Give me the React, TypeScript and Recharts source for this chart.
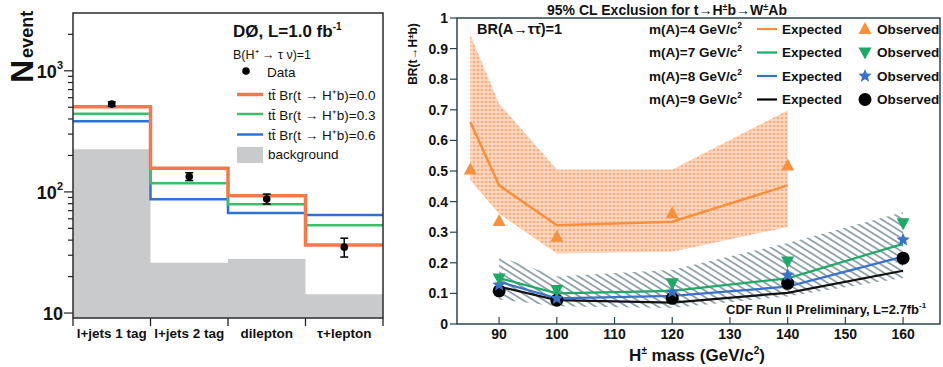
import React from 'react';
import { ComposedChart, Line, Area, Scatter, XAxis, YAxis, ErrorBar } from 'recharts';

const FONT = '"Liberation Sans", Arial, Helvetica, sans-serif';

// ---- left panel: D0 event counts per channel ----
const channels = ['l+jets 1 tag', 'l+jets 2 tag', 'dilepton', 'τ+lepton'];
const br00 = [504, 157, 93, 36.5];
const br03 = [441, 118, 79, 53];
const br06 = [384, 87, 67, 64.6];
const background = [225, 26, 28, 14.3];
const observed = [531, 134, 87.5, 35];
const obsErrLow = [23, 10, 8, 6];
const obsErrHigh = [23, 10, 8.5, 6.5];
const countTicks = [10, 20, 30, 40, 50, 60, 70, 80, 90, 100, 200, 300, 400, 500, 600, 700, 800, 900, 1000, 2000];

// ---- right panel: CDF BR limits vs H+ mass ----
const massA4 = [85, 90, 100, 120, 140];
const exp4 = [0.66, 0.453, 0.323, 0.334, 0.453];
const obs4 = [0.505, 0.337, 0.285, 0.362, 0.518];
const band4Low = [0.47, 0.36, 0.23, 0.236, 0.317];
const band4High = [0.946, 0.72, 0.505, 0.505, 0.698];

const mass = [90, 100, 120, 140, 160];
const exp7 = [0.15, 0.1, 0.108, 0.149, 0.262];
const obs7 = [0.149, 0.111, 0.133, 0.204, 0.329];
const exp8 = [0.138, 0.084, 0.092, 0.122, 0.22];
const obs8 = [0.128, 0.084, 0.105, 0.16, 0.275];
const exp9 = [0.122, 0.078, 0.07, 0.102, 0.174];
const obs9 = [0.108, 0.078, 0.084, 0.133, 0.215];
const hatchLow = [0.08, 0.058, 0.052, 0.09, 0.15];
const hatchHigh = [0.22, 0.155, 0.177, 0.265, 0.365];

const massTicks = [90, 100, 110, 120, 130, 140, 150, 160];
const brTicks = [0, 0.1, 0.2, 0.3, 0.4, 0.5, 0.6, 0.7, 0.8, 0.9, 1];

const C_OR = '#f2794d';
const C_GR = '#3cbf6a';
const C_BL = '#2f72d6';
const C_OR2 = '#f7913f';
const C_GR2 = '#1fa868';
const C_BL2 = '#3a72c9';

const steps = (vals: number[]) => [...vals, vals[vals.length - 1]].map((y, i) => ({ x: i, y }));
const pairs = (xs: number[], ys: number[]) => xs.map((x, i) => ({ x, y: ys[i] }));
const ranges = (xs: number[], lo: number[], hi: number[]) => xs.map((x, i) => ({ x, r: [lo[i], hi[i]] }));

const dataPts = observed.map((y, i) => ({ x: i + 0.5, y, err: [obsErrLow[i], obsErrHigh[i]] }));

const LEFT_W = 390;
const LEFT_PLOT_W = 310;

const ChannelTick = (p: any) => {
  const { x, y, payload } = p;
  const i = payload.value;
  return (
    <g>
      <line x1={x} x2={x} y1={y} y2={y + 8} stroke="#222" strokeWidth={1.3} />
      {i < 4 && (
        <text x={x + LEFT_PLOT_W / 8} y={y + 20} textAnchor="middle" fontSize={13.5} fontWeight="bold" fill="#111" fontFamily={FONT}>
          {channels[i]}
        </text>
      )}
    </g>
  );
};

const CountTick = (p: any) => {
  const { x, y, payload } = p;
  const v = payload.value;
  const e = Math.log10(v);
  const major = Math.abs(e - Math.round(e)) < 1e-6;
  return (
    <g>
      <line x1={x - (major ? 9 : 5)} x2={x} y1={y} y2={y} stroke="#222" strokeWidth={1.2} />
      {major && (
        <text x={x - 10} y={y + 7} textAnchor="end" fontSize={18} fontWeight="bold" fill="#111" fontFamily={FONT}>
          10
          {Math.round(e) > 1 && (
            <tspan fontSize={11} dy={-9}>
              {Math.round(e)}
            </tspan>
          )}
        </text>
      )}
    </g>
  );
};

const BrTick = (p: any) => {
  const { x, y, payload } = p;
  const v = payload.value;
  const label = v === 0 ? '0' : v === 1 ? '1' : v.toFixed(1);
  return (
    <g>
      <line x1={x - 7} x2={x} y1={y} y2={y} stroke="#2c4452" strokeWidth={1.2} />
      <text x={x - 9} y={y + 5} textAnchor="end" fontSize={14} fontWeight="bold" fill="#111" fontFamily={FONT}>
        {label}
      </text>
    </g>
  );
};

const MassTick = (p: any) => {
  const { x, y, payload } = p;
  return (
    <g>
      <line x1={x} x2={x} y1={y - 7} y2={y} stroke="#2c4452" strokeWidth={1.2} />
      <text x={x} y={y + 15} textAnchor="middle" fontSize={14} fontWeight="bold" fill="#111" fontFamily={FONT}>
        {payload.value}
      </text>
    </g>
  );
};

const starPts = (cx: number, cy: number, R: number, r: number) =>
  Array.from({ length: 10 }, (_, k) => {
    const a = -Math.PI / 2 + (k * Math.PI) / 5;
    const rad = k % 2 === 0 ? R : r;
    return `${cx + rad * Math.cos(a)},${cy + rad * Math.sin(a)}`;
  }).join(' ');

const TriUp = ({ cx, cy, fill }: any) => (
  <polygon points={`${cx},${cy - 7} ${cx - 6.5},${cy + 5} ${cx + 6.5},${cy + 5}`} fill={fill} />
);
const TriDown = ({ cx, cy, fill }: any) => (
  <polygon points={`${cx},${cy + 7} ${cx - 6.5},${cy - 5} ${cx + 6.5},${cy - 5}`} fill={fill} />
);
const Star = ({ cx, cy, fill }: any) => <polygon points={starPts(cx, cy, 7, 3.2)} fill={fill} />;
const Dot = ({ cx, cy, fill }: any) => <circle cx={cx} cy={cy} r={6.5} fill={fill} />;

const LeftPanel = () => (
  <ComposedChart width={LEFT_W} height={367} margin={{ top: 13, right: 7, left: 0, bottom: 19 }}>
    <XAxis
      type="number"
      dataKey="x"
      domain={[0, 4]}
      ticks={[0, 1, 2, 3, 4]}
      interval={0}
      height={30}
      axisLine={false}
      tickLine={false}
      tickSize={0}
      tickMargin={0}
      tick={<ChannelTick />}
    />
    <YAxis
      type="number"
      scale="log"
      domain={[9.1, 3000]}
      allowDataOverflow
      ticks={countTicks}
      interval={0}
      width={73}
      axisLine={false}
      tickLine={false}
      tickSize={0}
      tickMargin={0}
      tick={<CountTick />}
    />
    <Area data={steps(background)} dataKey="y" type="stepAfter" fill="#c9cacc" fillOpacity={1} stroke="none" isAnimationActive={false} />
    <Line data={steps(br06)} dataKey="y" type="stepAfter" stroke={C_BL} strokeWidth={2.5} dot={false} isAnimationActive={false} />
    <Line data={steps(br03)} dataKey="y" type="stepAfter" stroke={C_GR} strokeWidth={2.5} dot={false} isAnimationActive={false} />
    <Line data={steps(br00)} dataKey="y" type="stepAfter" stroke={C_OR} strokeWidth={3.5} dot={false} isAnimationActive={false} />
    <Scatter data={dataPts} dataKey="y" fill="#000" shape={(p: any) => <circle cx={p.cx} cy={p.cy} r={3.8} fill="#000" />} isAnimationActive={false}>
      <ErrorBar dataKey="err" direction="y" width={4} stroke="#000" strokeWidth={1.5} />
    </Scatter>
  </ComposedChart>
);

const RightPanel = () => (
  <ComposedChart width={563} height={367} margin={{ top: 18, right: 3, left: 0, bottom: 13 }}>
    <defs>
      <pattern id="dots" patternUnits="userSpaceOnUse" width="4" height="4">
        <rect width="4" height="4" fill="#fcd8c0" />
        <circle cx="2" cy="2" r="1.3" fill="#f8ae82" />
      </pattern>
      <pattern id="hatch" patternUnits="userSpaceOnUse" width="6" height="5.5" patternTransform="rotate(32)">
        <line x1="0" y1="2.75" x2="6" y2="2.75" stroke="#567280" strokeWidth="1.2" />
      </pattern>
    </defs>
    <XAxis
      type="number"
      dataKey="x"
      domain={[82.7, 166.4]}
      allowDataOverflow
      ticks={massTicks}
      interval={0}
      height={30}
      axisLine={false}
      tickLine={false}
      tickSize={0}
      tickMargin={0}
      tick={<MassTick />}
    />
    <YAxis
      type="number"
      domain={[0, 1]}
      ticks={brTicks}
      interval={0}
      width={77}
      axisLine={false}
      tickLine={false}
      tickSize={0}
      tickMargin={0}
      tick={<BrTick />}
    />
    <Area data={ranges(massA4, band4Low, band4High)} dataKey="r" type="linear" fill="url(#dots)" fillOpacity={1} stroke="none" isAnimationActive={false} />
    <Area data={ranges(mass, hatchLow, hatchHigh)} dataKey="r" type="linear" fill="url(#hatch)" fillOpacity={1} stroke="none" isAnimationActive={false} />
    <Line data={pairs(massA4, exp4)} dataKey="y" type="linear" stroke={C_OR2} strokeWidth={2.5} dot={false} isAnimationActive={false} />
    <Line data={pairs(mass, exp9)} dataKey="y" type="linear" stroke="#111" strokeWidth={2.2} dot={false} isAnimationActive={false} />
    <Line data={pairs(mass, exp8)} dataKey="y" type="linear" stroke={C_BL2} strokeWidth={2.2} dot={false} isAnimationActive={false} />
    <Line data={pairs(mass, exp7)} dataKey="y" type="linear" stroke={C_GR2} strokeWidth={2.2} dot={false} isAnimationActive={false} />
    <Scatter data={pairs(massA4, obs4)} dataKey="y" fill={C_OR2} shape={TriUp} isAnimationActive={false} />
    <Scatter data={pairs(mass, obs9)} dataKey="y" fill="#000" shape={Dot} isAnimationActive={false} />
    <Scatter data={pairs(mass, obs8)} dataKey="y" fill={C_BL2} shape={Star} isAnimationActive={false} />
    <Scatter data={pairs(mass, obs7)} dataKey="y" fill={C_GR2} shape={TriDown} isAnimationActive={false} />
  </ComposedChart>
);

const legendRows = [
  { m: '4', color: C_OR2, mk: TriUp },
  { m: '7', color: C_GR2, mk: TriDown },
  { m: '8', color: C_BL2, mk: Star },
  { m: '9', color: '#000', mk: Dot },
];
const legendY = [33.5, 57, 80.5, 104];

const Overlay = () => (
  <svg width={943} height={367} style={{ position: 'absolute', left: 0, top: 0, pointerEvents: 'none' }} fontFamily={FONT}>
    {/* frames */}
    <rect x={73} y={13} width={310} height={305} fill="none" stroke="#2b2b2b" strokeWidth={1.5} />
    <rect x={457} y={18} width={483} height={306} fill="none" stroke="#2c4452" strokeWidth={1.5} />

    {/* left axis title */}
    <text transform="translate(33,83) rotate(-90)" fontWeight="bold" fill="#111">
      <tspan fontSize={32}>N</tspan>
      <tspan fontSize={18} dx={2}>event</tspan>
    </text>

    {/* left legend */}
    <text x={233} y={37} fontSize={17} fontWeight="bold" fill="#111">
      DØ, L=1.0 fb<tspan fontSize={10} dy={-7}>-1</tspan>
    </text>
    <text x={233} y={59} fontSize={12.5} fill="#111">B(H⁺ → τ ν)=1</text>
    <circle cx={246} cy={71} r={3.8} fill="#000" />
    <text x={267} y={77} fontSize={13.5} fill="#111">Data</text>
    <line x1={237} x2={263} y1={94.5} y2={94.5} stroke={C_OR} strokeWidth={3.5} />
    <text x={268} y={100} fontSize={13.5} fill="#111">tt̄ Br(t → H⁺b)=0.0</text>
    <line x1={237} x2={263} y1={114} y2={114} stroke={C_GR} strokeWidth={2.5} />
    <text x={268} y={119.5} fontSize={13.5} fill="#111">tt̄ Br(t → H⁺b)=0.3</text>
    <line x1={237} x2={263} y1={134.5} y2={134.5} stroke={C_BL} strokeWidth={2.5} />
    <text x={268} y={140} fontSize={13.5} fill="#111">tt̄ Br(t → H⁺b)=0.6</text>
    <rect x={237} y={147} width={26} height={16} fill="#c9cacc" />
    <text x={268} y={159} fontSize={13.5} fill="#111">background</text>

    {/* right titles */}
    <text x={667} y={15} textAnchor="middle" fontSize={14} fontWeight="bold" fill="#111">
      95% CL Exclusion for t→H<tspan fontSize={9} dy={-5}>±</tspan>
      <tspan dy={5}>b→W</tspan>
      <tspan fontSize={9} dy={-5}>±</tspan>
      <tspan dy={5}>Ab</tspan>
    </text>
    <text x={477} y={34} fontSize={14.5} fontWeight="bold" fill="#111">BR(A→ττ̄)=1</text>
    <text transform="translate(417,54) rotate(-90)" textAnchor="middle" fontSize={12} fontWeight="bold" fill="#111">
      BR(t→H<tspan fontSize={8} dy={-4}>±</tspan>
      <tspan dy={4}>b)</tspan>
    </text>
    <text x={697} y={361} textAnchor="middle" fontSize={17} fontWeight="bold" fill="#111">
      H<tspan fontSize={10} dy={-7}>±</tspan>
      <tspan dy={7}> mass (GeV/c</tspan>
      <tspan fontSize={10} dy={-7}>2</tspan>
      <tspan dy={7}>)</tspan>
    </text>
    <text x={726} y={314} fontSize={13} fontWeight="bold" fill="#111">
      CDF Run II Preliminary, L=2.7fb<tspan fontSize={8} dy={-6}>-1</tspan>
    </text>

    {/* right legend */}
    {legendRows.map((r, i) => {
      const y = legendY[i];
      const Mk = r.mk;
      return (
        <g key={r.m}>
          <text x={649} y={y} fontSize={13.5} fontWeight="bold" fill="#111">
            m(A)={r.m} GeV/c<tspan fontSize={8.5} dy={-6}>2</tspan>
          </text>
          <line x1={757} x2={777} y1={y - 4.5} y2={y - 4.5} stroke={r.color} strokeWidth={2.2} />
          <text x={782} y={y} fontSize={13.5} fontWeight="bold" fill="#111">Expected</text>
          <Mk cx={865} cy={y - 4.5} fill={r.color} />
          <text x={877} y={y} fontSize={13.5} fontWeight="bold" fill="#111">Observed</text>
        </g>
      );
    })}
  </svg>
);

export default function App() {
  return (
    <div style={{ position: 'absolute', left: 0, top: 0, width: 943, height: 367, background: '#fff', fontFamily: FONT, overflow: 'hidden' }}>
      <div style={{ position: 'absolute', left: 0, top: 0 }}>
        <LeftPanel />
      </div>
      <div style={{ position: 'absolute', left: 380, top: 0 }}>
        <RightPanel />
      </div>
      <Overlay />
    </div>
  );
}
